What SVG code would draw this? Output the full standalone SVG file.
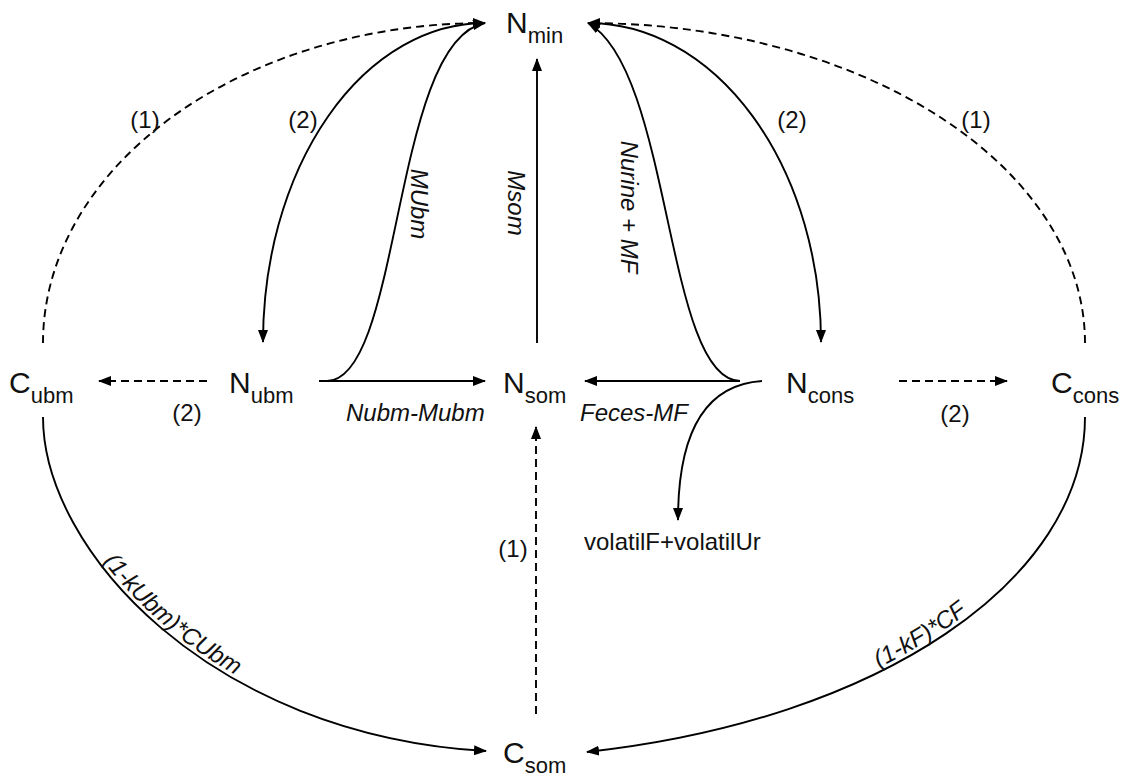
<svg xmlns="http://www.w3.org/2000/svg" xmlns:xlink="http://www.w3.org/1999/xlink" width="1126" height="776" viewBox="0 0 1126 776">
<style>
.node{font-family:"Liberation Sans",Arial,sans-serif;font-size:30px;fill:#111}
.sub{font-size:22px}
.lab{font-family:"Liberation Sans",Arial,sans-serif;font-size:24px;font-style:italic;fill:#111}
.num{font-family:"Liberation Sans",Arial,sans-serif;font-size:24px;fill:#111}
.c{fill:none;stroke:#000;stroke-width:1.9;marker-end:url(#ah)}
.d{stroke-dasharray:8 5}
</style>
<defs>
<marker id="ah" markerUnits="userSpaceOnUse" markerWidth="13" markerHeight="10" refX="12" refY="5" orient="auto">
<path d="M0,0 L13,5 L0,10 z" fill="#000"/>
</marker>
<path id="pLB" d="M 43 417 C 43 550, 210 735, 486 751"/>
<path id="pRBrev" d="M 587 752 C 880 720, 1085 580, 1085 417"/>
</defs>
<rect width="1126" height="776" fill="#fff"/>
<g id="connectors">
<path class="c d" d="M 43 343 A 442 320 0 0 1 485 23"/>
<path class="c d" d="M 1085 343 A 497 320 0 0 0 588 23"/>
<path class="c" d="M 485 23 A 222 319 0 0 0 263 342"/>
<path class="c" d="M 588 23 A 233 319 0 0 1 821 342"/>
<path class="c" d="M 327 381 C 402 380, 392 40, 485 23"/>
<path class="c" d="M 740 381 C 665 380, 672 70, 588 23"/>
<path class="c" d="M 537 343 L 537 59"/>
<path class="c" d="M 319 381 L 485 381"/>
<path class="c" d="M 740 381 L 585 381"/>
<path class="c d" d="M 207 381 L 99 381"/>
<path class="c d" d="M 899 381 L 1007 381"/>
<path class="c d" d="M 536 714 L 536 427"/>
<path class="c" d="M 762 381 C 700 385, 678 440, 678 520"/>
<path class="c" d="M 43 417 C 43 550, 210 735, 486 751"/>
<path class="c" d="M 1085 417 C 1085 580, 880 720, 587 752"/>
</g>
<g id="labels">
<text class="num" x="145" y="128" text-anchor="middle">(1)</text>
<text class="num" x="303" y="128" text-anchor="middle">(2)</text>
<text class="num" x="792" y="128" text-anchor="middle">(2)</text>
<text class="num" x="976" y="128" text-anchor="middle">(1)</text>
<text class="num" x="187" y="421" text-anchor="middle">(2)</text>
<text class="num" x="955" y="422" text-anchor="middle">(2)</text>
<text class="num" x="513" y="557" text-anchor="middle">(1)</text>
<text class="lab" x="346" y="421">Nubm-Mubm</text>
<text class="lab" x="580" y="421">Feces-MF</text>
<text class="num" x="584" y="550">volatilF+volatilUr</text>
<text class="lab" transform="translate(508,203) rotate(90)" text-anchor="middle">Msom</text>
<text class="lab" transform="translate(411,204) rotate(90)" text-anchor="middle">MUbm</text>
<text class="lab" transform="translate(621,207) rotate(90)" text-anchor="middle">Nurine + MF</text>
<text class="lab" dy="-4"><textPath xlink:href="#pLB" href="#pLB" startOffset="160">(1-kUbm)*CUbm</textPath></text>
<text class="lab" dy="-4"><textPath xlink:href="#pRBrev" href="#pRBrev" startOffset="306">(1-kF)*CF</textPath></text>
</g>
<g id="n-min"><text class="node" x="506" y="33">N<tspan class="sub" dy="10">min</tspan></text></g>
<g id="n-ubm"><text class="node" x="229" y="393">N<tspan class="sub" dy="10">ubm</tspan></text></g>
<g id="n-som"><text class="node" x="503" y="393">N<tspan class="sub" dy="10">som</tspan></text></g>
<g id="n-cons"><text class="node" x="786" y="393">N<tspan class="sub" dy="10">cons</tspan></text></g>
<g id="c-ubm"><text class="node" x="9" y="393">C<tspan class="sub" dy="10">ubm</tspan></text></g>
<g id="c-cons"><text class="node" x="1051" y="393">C<tspan class="sub" dy="10">cons</tspan></text></g>
<g id="c-som"><text class="node" x="503" y="763">C<tspan class="sub" dy="10">som</tspan></text></g>
</svg>
